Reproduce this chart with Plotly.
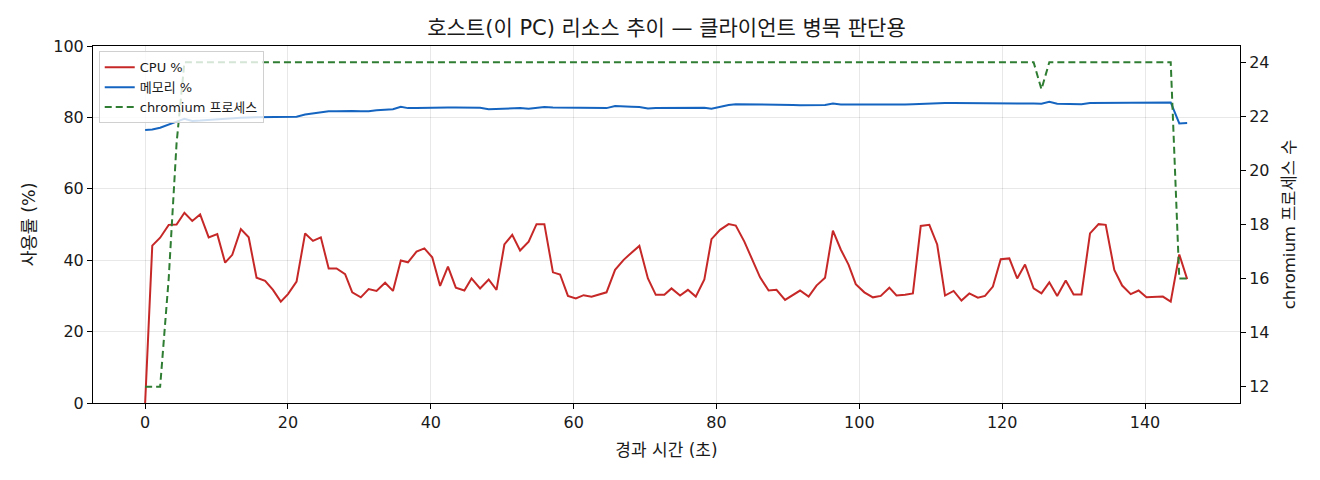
import plotly.graph_objects as go

# elapsed seconds
t = [0, 1.0, 2.1, 3.3, 4.4, 5.5, 6.6, 7.7, 8.9, 10.1,
     11.2, 12.2, 13.4, 14.5, 15.6, 16.8, 17.9, 19.0, 20.0, 21.2,
     22.4, 23.5, 24.6, 25.7, 26.8, 28.0, 29.0, 30.2, 31.3, 32.4,
     33.6, 34.7, 35.8, 36.8, 38.0, 39.1, 40.2, 41.3, 42.4, 43.5,
     44.7, 45.7, 46.9, 48.1, 49.2, 50.3, 51.4, 52.5, 53.7, 54.8,
     55.9, 57.1, 58.1, 59.2, 60.3, 61.4, 62.5, 63.6, 64.6, 65.8,
     67.0, 68.1, 69.2, 70.4, 71.5, 72.7, 73.7, 74.9, 76.0, 77.1,
     78.3, 79.3, 80.5, 81.7, 82.7, 83.9, 84.9, 86.1, 87.3, 88.4,
     89.6, 90.7, 91.7, 92.9, 94.0, 95.2, 96.3, 97.4, 98.5, 99.5,
     100.7, 101.9, 103.0, 104.2, 105.2, 106.4, 107.5, 108.6, 109.8, 110.9,
     112.0, 113.2, 114.3, 115.4, 116.6, 117.6, 118.7, 119.8, 121.0, 122.1,
     123.2, 124.4, 125.5, 126.6, 127.7, 128.9, 130.0, 131.1, 132.3, 133.5,
     134.5, 135.7, 136.8, 138.0, 139.1, 140.2, 141.4, 142.5, 143.6, 144.8,
     145.9]

cpu = [0, 44.1, 46.3, 49.9, 50.0, 53.3, 51.0, 52.8, 46.4, 47.3,
       39.3, 41.5, 48.7, 46.4, 35.1, 34.2, 31.7, 28.4, 30.5, 34.0,
       47.5, 45.4, 46.4, 37.7, 37.7, 36.1, 31.0, 29.6, 31.9, 31.4,
       33.7, 31.4, 39.9, 39.4, 42.4, 43.3, 40.8, 32.8, 38.2, 32.3,
       31.5, 34.9, 32.1, 34.6, 31.7, 44.4, 47.1, 42.7, 45.2, 50.1,
       50.1, 36.6, 36.0, 30.0, 29.3, 30.2, 29.8, 30.5, 31.0, 37.3,
       40.1, 42.1, 44.0, 34.9, 30.3, 30.3, 32.1, 30.1, 31.7, 29.8,
       34.6, 45.9, 48.5, 50.1, 49.7, 45.2, 40.7, 35.2, 31.5, 31.7,
       28.9, 30.3, 31.5, 29.8, 32.9, 35.1, 48.3, 43.0, 38.7, 33.3,
       31.0, 29.6, 30.0, 32.3, 30.1, 30.3, 30.7, 49.6, 49.9, 44.4,
       30.1, 31.4, 28.7, 30.7, 29.5, 30.0, 32.6, 40.3, 40.5, 34.9,
       38.8, 32.1, 30.7, 33.8, 30.0, 34.3, 30.4, 30.4, 47.5, 50.1,
       49.9, 37.3, 32.9, 30.5, 31.5, 29.6, 29.6, 29.8, 28.4, 41.6,
       34.7]

mem = [76.5, 76.6, 77.1, 77.9, 78.8, 79.6, 79.0, 79.1, 79.3, 79.5,
       79.6, 79.8, 79.9, 80.0, 80.0, 80.0, 80.0, 80.0, 80.0, 80.2,
       80.8, 81.1, 81.6, 81.7, 81.7, 81.8, 81.8, 81.7, 81.7, 82.0,
       82.1, 82.3, 83.0, 82.6, 82.6, 82.7, 82.8, 82.8, 82.8, 82.8,
       82.8, 82.8, 82.7, 82.3, 82.4, 82.6, 82.7, 82.6, 82.4, 82.6,
       82.9, 82.8, 82.8, 82.8, 82.8, 82.8, 82.8, 82.8, 82.6, 83.2,
       83.0, 83.0, 82.9, 82.5, 82.6, 82.6, 82.7, 82.7, 82.7, 82.8,
       82.7, 82.4, 83.0, 83.5, 83.7, 83.7, 83.6, 83.5, 83.5, 83.5,
       83.5, 83.5, 83.4, 83.4, 83.4, 83.5, 83.9, 83.6, 83.6, 83.6,
       83.5, 83.6, 83.5, 83.6, 83.4, 83.6, 83.7, 83.8, 83.8, 83.9,
       84.0, 84.0, 84.0, 84.1, 84.0, 84.0, 83.9, 84.0, 84.0, 84.0,
       84.0, 83.9, 83.8, 84.4, 83.8, 83.8, 83.8, 83.7, 84.0, 84.0,
       84.1, 84.1, 84.2, 84.2, 84.2, 84.2, 84.2, 84.2, 84.2, 78.3,
       78.4]

procs = [12, 12, 12, 16, 21, 24, 24, 24, 24, 24,
         24, 24, 24, 24, 24, 24, 24, 24, 24, 24,
         24, 24, 24, 24, 24, 24, 24, 24, 24, 24,
         24, 24, 24, 24, 24, 24, 24, 24, 24, 24,
         24, 24, 24, 24, 24, 24, 24, 24, 24, 24,
         24, 24, 24, 24, 24, 24, 24, 24, 24, 24,
         24, 24, 24, 24, 24, 24, 24, 24, 24, 24,
         24, 24, 24, 24, 24, 24, 24, 24, 24, 24,
         24, 24, 24, 24, 24, 24, 24, 24, 24, 24,
         24, 24, 24, 24, 24, 24, 24, 24, 24, 24,
         24, 24, 24, 24, 24, 24, 24, 24, 24, 24,
         24, 24, 23, 24, 24, 24, 24, 24, 24, 24,
         24, 24, 24, 24, 24, 24, 24, 24, 24, 16,
         16]

x_ticks = [0, 20, 40, 60, 80, 100, 120, 140]
y_ticks = [0, 20, 40, 60, 80, 100]
y2_ticks = [12, 14, 16, 18, 20, 22, 24]

FONT = "DejaVu Sans, Noto Sans CJK KR, sans-serif"

fig = go.Figure()
fig.add_trace(go.Scatter(x=t, y=cpu, mode="lines", name="CPU %",
                         line=dict(color="#c62828", width=2)))
fig.add_trace(go.Scatter(x=t, y=mem, mode="lines", name="메모리 %",
                         line=dict(color="#1565c0", width=2)))
fig.add_trace(go.Scatter(x=t, y=procs, mode="lines", name="chromium 프로세스",
                         yaxis="y2",
                         line=dict(color="#2e7d32", width=2, dash="7px,4px")))

axis_common = dict(showline=True, linecolor="black", linewidth=1,
                   ticks="outside", ticklen=5, tickcolor="black",
                   tickfont=dict(size=16, color="#1a1a1a"), zeroline=False)

fig.update_layout(
    width=1320, height=480,
    paper_bgcolor="white", plot_bgcolor="white",
    font=dict(family=FONT, color="#1a1a1a"),
    margin=dict(l=85, r=88, t=38, b=85),
    title=dict(text="호스트(이 PC) 리소스 추이 — 클라이언트 병목 판단용",
               x=(85 + 1232) / 2 / 1320, xanchor="center",
               y=1 - 20 / 480, yanchor="middle",
               yref="container", font=dict(size=21)),
    xaxis=dict(range=[-7.3, 153.3], tickvals=x_ticks, mirror=True,
               showgrid=True, gridcolor="rgba(0,0,0,0.09)", gridwidth=1,
               title=dict(text="경과 시간 (초)", font=dict(size=17), standoff=12),
               **axis_common),
    yaxis=dict(range=[0, 100], tickvals=y_ticks,
               showgrid=True, gridcolor="rgba(0,0,0,0.09)", gridwidth=1,
               title=dict(text="사용률 (%)", font=dict(size=17.5), standoff=13),
               **axis_common),
    yaxis2=dict(range=[11.4, 24.6], tickvals=y2_ticks, overlaying="y",
                side="right", showgrid=False,
                title=dict(text="chromium 프로세스 수", font=dict(size=16.5), standoff=14),
                **axis_common),
    legend=dict(x=0.005, y=0.985, xanchor="left", yanchor="top",
                bgcolor="rgba(255,255,255,0.8)", bordercolor="#d0d0d0",
                borderwidth=1, font=dict(size=13), tracegroupgap=0,
                itemwidth=30),
    showlegend=True,
)

fig.write_html("out.html")
